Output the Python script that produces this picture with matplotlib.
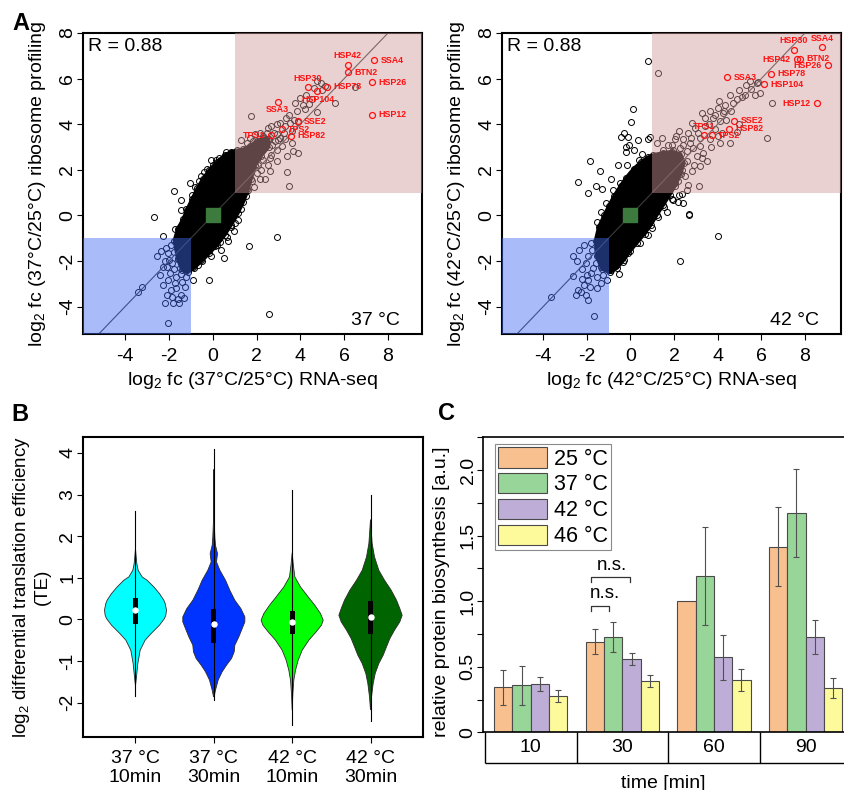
import numpy as np
import matplotlib
matplotlib.use("Agg")
import matplotlib.pyplot as plt
from matplotlib.patches import Polygon, Rectangle

plt.rcParams["font.family"] = ["Liberation Sans", "DejaVu Sans"]
plt.rcParams["mathtext.fontset"] = "custom"
plt.rcParams["mathtext.rm"] = "Liberation Sans"
plt.rcParams["mathtext.it"] = "Liberation Sans:italic"
plt.rcParams["mathtext.bf"] = "Liberation Sans:bold"
plt.rcParams["axes.unicode_minus"] = False

# ---------------- Panel A data: log2 fold changes ----------------
# scattered genes outside the dense centre (RNA-seq fc, ribosome profiling fc), 37 °C
pts37 = np.array([
    [-2.68, -0.05], [-2.27, -0.92], [-1.78, 1.05], [-1.46, 0.68], [-1.46, 0.22], [-1.05, 1.42],
    [-0.64, 1.53], [-0.09, 2.41], [-0.52, 1.74], [0.65, -0.95], [1.66, -1.33], [2.95, -0.95],
    [0.53, -1.86], [-0.18, -2.82], [-0.90, -2.85], [2.56, -4.32], [-2.04, -4.72], [-3.24, -3.12],
    [-3.39, -3.34], [0.09, -1.33], [0.32, -1.15], [0.85, -0.49], [1.16, -0.19], [1.54, 0.86],
    [-0.67, -2.17], [-0.52, -1.95], [-0.90, -2.24], [-0.40, 1.90], [0.30, 2.50], [0.60, 2.78],
    [-0.95, 0.90], [-1.20, 0.30], [-1.50, -0.50], [0.95, -0.70], [0.40, -1.50], [1.30, 0.30],
    [0.00, 2.20], [-0.80, 1.25], [0.15, 2.45], [-0.25, 2.05], [1.00, -0.35], [0.70, -1.10],
    [-0.10, -1.80], [-1.70, -0.60],
    [-2.54, -1.77], [-2.34, -1.58], [-2.15, -1.41], [-2.27, -2.24], [-2.19, -3.85], [-1.81, -3.85],
    [-1.54, -3.85], [-1.43, -3.48], [-1.66, -3.19], [-1.89, -3.26], [-2.27, -3.04], [-2.04, -2.82],
    [-1.96, -2.53], [-1.66, -2.68], [-1.28, -3.12], [-1.84, -3.56], [-1.20, -2.68], [-2.19, -2.02],
    [-2.09, -2.24], [-1.51, -2.31], [-1.90, -1.30], [-1.75, -1.60], [-1.60, -1.90], [-2.00, -1.95],
    [-1.85, -2.10], [-1.40, -2.90], [-1.70, -2.95], [-2.10, -3.50], [-1.60, -3.65], [-2.40, -2.60],
    [-1.30, -3.60], [-1.45, -2.55], [-1.75, -2.35], [-1.20, -2.30], [-2.05, -1.65],
    [1.75, 4.35], [2.66, 3.94], [3.07, 4.06], [3.35, 4.28], [3.50, 4.42], [3.83, 4.57],
    [3.76, 4.91], [3.99, 5.16], [4.26, 5.26], [4.52, 5.11], [4.21, 4.68], [4.78, 4.53],
    [5.58, 4.94], [5.13, 5.67], [4.93, 5.79], [6.50, 5.64], [4.78, 5.88], [4.14, 4.86],
    [3.73, 4.20], [3.53, 4.06], [3.23, 3.62], [2.92, 3.55], [2.46, 3.62], [2.85, 3.26],
    [3.68, 2.82], [3.87, 2.72], [3.41, 2.60], [3.41, 1.90], [3.50, 1.31], [2.62, 1.94],
    [2.54, 2.23], [2.39, 1.58], [2.16, 1.58], [1.90, 1.25], [1.55, 1.14], [2.66, 2.67],
    [2.92, 2.89], [3.15, 3.04], [1.86, 3.26], [1.55, 3.18], [1.25, 2.82], [2.54, 3.33],
    [2.31, 3.47], [2.16, 3.62], [1.93, 3.55], [2.92, 3.99], [2.54, 3.84], [3.07, 3.40],
    [3.30, 3.33], [3.61, 3.18], [2.92, 2.38], [2.31, 2.45], [2.08, 2.23], [2.00, 1.87],
    [1.70, 2.01], [1.78, 1.50], [1.32, 1.28], [1.25, 2.08], [1.47, 2.45],
    [1.15, 1.60], [1.40, 1.80], [1.60, 2.30], [1.90, 2.70], [2.10, 2.90], [2.40, 3.00],
    [2.70, 3.10], [2.80, 3.60], [3.30, 3.90], [3.60, 3.70], [3.90, 4.10], [4.40, 4.90],
    [4.60, 5.60], [5.00, 5.50], [1.10, 2.30], [1.30, 3.30], [1.70, 3.40], [2.20, 2.00],
    [2.60, 2.50], [3.00, 3.30],
])
# outline of the saturated cloud of overlapping genes, 37 °C
core37 = np.array([
    [-1.75, -1.10], [-1.60, -0.60], [-1.35, -0.15], [-1.15, 0.30], [-0.95, 0.70], [-0.70, 1.20],
    [-0.45, 1.60], [-0.15, 2.00], [0.20, 2.35], [0.55, 2.65], [0.85, 2.80], [1.10, 2.85],
    [1.40, 2.90], [1.70, 3.05], [2.00, 3.25], [2.30, 3.40], [2.55, 3.35], [2.55, 3.00],
    [2.20, 2.60], [1.95, 2.20], [1.75, 1.60], [1.60, 1.10], [1.40, 0.60], [1.15, 0.10],
    [0.85, -0.40], [0.55, -0.85], [0.20, -1.30], [-0.15, -1.65], [-0.50, -2.00], [-0.85, -2.30],
    [-1.15, -2.50], [-1.40, -2.40], [-1.60, -1.90],
])
hsp_names37 = ["HSP42", "SSA4", "BTN2", "HSP26", "HSP30", "HSP78", "HSP104",
               "SSA3", "HSP12", "SSE2", "TPS2", "TPS1", "HSP82"]
hsp_x37 = [6.16, 7.38, 6.19, 7.29, 4.34, 5.23, 4.78, 2.97, 7.26, 3.88, 3.15, 2.66, 3.56]
hsp_y37 = [6.60, 6.81, 6.28, 5.84, 5.62, 5.64, 5.45, 4.98, 4.42, 4.14, 3.79, 3.51, 3.50]
hsp_pos37 = ["top", "right", "right", "right", "top", "right", "bottom",
             "bottom", "right", "right", "right", "left", "right"]

# 42 °C
pts42 = np.array([
    [0.82, 6.76], [0.10, 4.67], [0.05, 4.08], [-0.30, 3.61], [-0.44, 3.46], [-0.10, 3.43],
    [-0.21, 3.02], [-0.06, 3.09], [0.36, 3.32], [0.90, 3.43], [-1.84, 2.39], [-1.41, 1.95],
    [-2.39, 1.47], [-1.93, 1.00], [-1.60, 1.27], [-1.31, 1.18], [-0.89, 1.59], [-0.48, 1.42],
    [-0.59, 2.22], [-0.16, 2.22], [-0.20, 2.76], [0.18, 2.88], [0.79, 3.34], [0.41, 2.44],
    [-1.35, 0.17], [-1.51, -0.27], [0.79, -0.85], [2.29, -1.98], [2.67, 0.07], [4.01, -0.90],
    [2.39, 0.56], [2.24, 0.90], [1.93, 0.68], [1.55, 0.39], [1.67, 0.17], [1.25, -0.05],
    [-0.51, -2.56], [-0.89, -2.39], [-1.69, -4.40], [-3.62, -3.58], [-0.13, -1.66], [-0.66, -2.17],
    [2.19, 0.60], [1.89, 0.70], [2.35, 0.93], [-1.10, 0.55], [-0.80, 1.10], [0.55, 2.70],
    [1.00, -0.55], [0.45, -1.20], [-0.35, -2.05],
    [-2.64, -1.76], [-2.45, -1.99], [-2.65, -2.65], [-2.42, -3.26], [-2.50, -3.51], [-2.27, -3.34],
    [-2.04, -3.48], [-1.93, -3.70], [-1.84, -3.12], [-2.15, -3.04], [-1.81, -2.53], [-1.51, -2.68],
    [-1.35, -2.97], [-2.24, -2.36], [-2.04, -2.10], [-2.35, -1.51], [-2.12, -1.29], [-1.96, -1.80],
    [-1.74, -1.51], [-1.08, -2.85], [-1.93, -2.85], [-1.35, -2.24], [-1.60, -2.10], [-1.80, -1.20],
    [-1.45, -1.70], [-1.70, -2.30], [-2.00, -2.60], [-1.25, -2.60], [-1.55, -3.20], [-2.20, -2.80],
    [1.28, 6.23], [6.49, 4.94], [6.25, 3.39], [5.79, 5.79], [5.94, 5.38], [5.51, 5.55],
    [5.71, 5.26], [5.25, 5.30], [5.10, 5.20], [4.87, 5.11], [4.57, 5.30], [4.72, 4.94],
    [4.34, 4.86], [4.08, 5.01], [4.03, 4.72], [4.26, 4.50], [3.65, 4.57], [3.27, 4.50],
    [3.42, 4.28], [3.80, 4.28], [4.10, 4.13], [4.40, 4.20], [4.99, 3.99], [4.87, 3.65],
    [4.56, 3.18], [4.10, 3.18], [4.03, 3.47], [3.65, 3.33], [3.88, 3.77], [2.96, 3.84],
    [2.81, 4.06], [2.66, 3.62], [2.24, 3.69], [3.19, 3.40], [2.73, 3.18], [2.42, 3.33],
    [2.04, 3.33], [1.73, 3.11], [1.96, 2.89], [2.27, 2.96], [2.58, 2.82], [2.88, 2.96],
    [3.19, 3.04], [3.34, 2.75], [3.04, 2.60], [3.49, 2.38], [3.19, 2.16], [2.81, 1.94],
    [2.50, 1.72], [2.66, 1.35], [3.16, 1.31], [1.43, 3.40], [1.20, 3.18], [1.51, 2.89],
    [1.81, 2.52], [2.12, 2.30], [1.35, 2.23], [2.35, 2.01], [2.04, 1.42], [1.66, 1.13],
    [1.35, 1.43], [2.58, 1.13], [2.68, 0.04], [5.86, 5.87],
    [1.20, 2.00], [1.50, 2.20], [1.70, 2.60], [1.90, 3.10], [2.10, 3.50], [2.40, 3.10],
    [2.80, 3.40], [3.10, 3.60], [3.40, 3.90], [3.60, 4.00], [3.90, 4.40], [4.30, 4.60],
    [4.60, 4.60], [5.00, 5.50], [5.30, 5.70], [5.50, 5.90], [1.80, 1.80], [2.20, 1.50],
    [2.90, 2.20], [3.30, 2.50], [1.30, 2.60], [1.10, 1.70], [2.60, 2.40], [3.70, 3.00],
    [4.20, 3.60],
])
core42 = np.array([
    [-1.60, -1.10], [-1.45, -0.50], [-1.20, 0.00], [-1.00, 0.40], [-0.75, 0.85], [-0.45, 1.30],
    [-0.20, 1.65], [0.15, 2.05], [0.50, 2.35], [0.80, 2.55], [1.05, 2.65], [1.50, 2.75],
    [1.90, 2.80], [2.30, 2.70], [2.45, 2.30], [2.30, 1.80], [2.05, 1.30], [1.80, 0.90],
    [1.50, 0.45], [1.20, 0.00], [0.95, -0.40], [0.65, -0.80], [0.30, -1.20], [0.00, -1.55],
    [-0.30, -1.95], [-0.60, -2.30], [-0.95, -2.50], [-1.30, -2.35], [-1.55, -1.80],
])
hsp_names42 = ["HSP30", "SSA4", "HSP42", "BTN2", "HSP26", "HSP78", "SSA3",
               "HSP104", "HSP12", "SSE2", "HSP82", "TPS1", "TPS2"]
hsp_x42 = [7.50, 8.80, 7.62, 7.79, 9.06, 6.43, 4.43, 6.11, 8.54, 4.76, 4.53, 3.39, 3.72]
hsp_y42 = [7.27, 7.37, 6.84, 6.87, 6.58, 6.21, 6.05, 5.76, 4.91, 4.15, 3.81, 3.52, 3.52]
hsp_pos42 = ["top", "top", "left", "right", "left", "right", "right",
             "right", "left", "right", "right", "top", "right"]

# ---------------- Panel B data: violin outlines of log2 differential TE ----------------
violin_labels = ["37 °C\n10min", "37 °C\n30min", "42 °C\n10min", "42 °C\n30min"]
violin_colors = ["#00ffff", "#0033ff", "#00ff00", "#006400"]
v1_y = [1.70, 1.50, 1.34, 1.18, 1.02, 0.94, 0.78, 0.62, 0.46, 0.38, 0.22, 0.10, 0.02,
        -0.14, -0.34, -0.50, -0.74, -1.06, -1.38, -1.60]
v1_w = [0.0, 0.009, 0.017, 0.034, 0.085, 0.149, 0.234, 0.306, 0.362, 0.379, 0.396, 0.387, 0.370,
        0.306, 0.200, 0.123, 0.060, 0.030, 0.013, 0.0]
v2_y = [3.60, 2.40, 1.98, 1.78, 1.58, 1.38, 1.18, 0.94, 0.70, 0.46, 0.26, 0.06, -0.06, -0.22,
        -0.42, -0.62, -0.78, -0.94, -1.10, -1.26, -1.46, -1.70, -1.86]
v2_w = [0.002, 0.004, 0.013, 0.021, 0.047, 0.034, 0.077, 0.149, 0.204, 0.268, 0.345, 0.396, 0.396,
        0.362, 0.319, 0.268, 0.260, 0.226, 0.162, 0.106, 0.055, 0.021, 0.004]
v3_y = [1.60, 1.34, 1.02, 0.78, 0.54, 0.34, 0.14, -0.02, -0.14, -0.30, -0.50, -0.74, -0.98,
        -1.22, -1.46, -1.78, -2.18]
v3_w = [0.0, 0.013, 0.034, 0.106, 0.204, 0.289, 0.362, 0.396, 0.374, 0.306, 0.213, 0.128, 0.077,
        0.043, 0.021, 0.009, 0.0]
v4_y = [2.40, 2.14, 1.82, 1.50, 1.18, 0.94, 0.70, 0.46, 0.26, 0.10, -0.06, -0.26, -0.46, -0.66,
        -0.86, -1.06, -1.30, -1.54, -1.86, -2.18]
v4_w = [0.0, 0.009, 0.021, 0.051, 0.106, 0.179, 0.264, 0.332, 0.374, 0.404, 0.374, 0.306, 0.247,
        0.204, 0.162, 0.106, 0.060, 0.034, 0.013, 0.0]
violin_min = [-1.83, -1.94, -2.54, -2.44]
violin_max = [2.61, 4.10, 3.12, 2.98]
violin_q1 = [-0.12, -0.58, -0.34, -0.34]
violin_q3 = [0.52, 0.26, 0.20, 0.44]
violin_med = [0.22, -0.12, -0.06, 0.06]

# ---------------- Panel C data: relative protein biosynthesis ----------------
time_labels = ["10", "30", "60", "90"]
temp_labels = ["25 °C", "37 °C", "42 °C", "46 °C"]
bar_colors = ["#f9c08f", "#98d598", "#beaed7", "#fdfa9c"]
synth_25 = [0.342, 0.691, 1.000, 1.416]
synth_37 = [0.360, 0.727, 1.191, 1.673]
synth_42 = [0.367, 0.559, 0.571, 0.724]
synth_46 = [0.276, 0.390, 0.400, 0.337]
err_25 = [0.133, 0.095, 0.0, 0.300]
err_37 = [0.149, 0.113, 0.375, 0.335]
err_42 = [0.051, 0.048, 0.170, 0.130]
err_46 = [0.046, 0.046, 0.082, 0.079]

# ======================================================================
W, H = 844, 790
fig = plt.figure(figsize=(W / 100, H / 100), dpi=100)


def axes_px(x0, y0, x1, y1):
    return fig.add_axes([x0 / W, 1 - y1 / H, (x1 - x0) / W, (y1 - y0) / H])


def style_box(ax, lw=1.5):
    for s in ax.spines.values():
        s.set_linewidth(lw)
        s.set_color("black")


def rotate_ylabels(ax):
    for lab in ax.get_yticklabels():
        lab.set_rotation(90)
        lab.set_va("center")


PINK = (0.82, 0.60, 0.60)
BLUE = (0.25, 0.42, 0.95)
OFFSETS = {"right": (4.6, 0, "left", "center"),
           "left": (-4.6, 0, "right", "center"),
           "top": (0, 3.2, "center", "bottom"),
           "bottom": (0, -2.6, "center", "top")}


def scatter_panel(ax, pts, core, names, gx, gy, gpos, temp, xlim):
    ax.set_xlim(*xlim)
    ax.set_ylim(-5.2, 8.0)
    ax.add_patch(Polygon(core, closed=True, fc="black", ec="black", lw=2.5,
                         joinstyle="round", zorder=2))
    # ragged rim of the cloud: open circles on the outline vertices
    ax.plot(core[:, 0], core[:, 1], "o", ms=4.3, mfc="none", mec="black", mew=0.7, zorder=2)
    ax.plot(pts[:, 0], pts[:, 1], "o", ms=4.3, mfc="none", mec="black", mew=0.7, zorder=2)
    ax.plot([-10, 10], [-10, 10], color="#3c3c3c", lw=0.8, zorder=2.5)
    ax.add_patch(Rectangle((1, 1), 20, 20, fc=PINK, alpha=0.45, lw=0, zorder=3))
    ax.add_patch(Rectangle((-20, -20), 19, 19, fc=BLUE, alpha=0.45, lw=0, zorder=3))
    ax.plot(gx, gy, "o", ms=4.3, mfc="none", mec="#ff1010", mew=0.9, zorder=4)
    for n, x, y, p in zip(names, gx, gy, gpos):
        dx, dy, ha, va = OFFSETS[p]
        ax.annotate(n, (x, y), xytext=(dx, dy), textcoords="offset points",
                    ha=ha, va=va, fontsize=6.4, fontweight="bold", color="#ff1010", zorder=5)
    ax.plot([0], [0], "s", ms=9.4, color="#3d7a3d", zorder=5)
    ax.text(0.016, 0.955, "R = 0.88", transform=ax.transAxes, fontsize=14,
            ha="left", va="center", zorder=6)
    ax.text(0.935, 0.045, temp, transform=ax.transAxes, fontsize=14,
            ha="right", va="center", zorder=6)
    ax.set_xticks(range(-4, 9, 2))
    ax.set_yticks(range(-4, 9, 2))
    ax.tick_params(direction="out", length=4.3, width=0.8, labelsize=14)
    ax.tick_params(axis="x", pad=6)
    ax.tick_params(axis="y", pad=0.5)
    rotate_ylabels(ax)
    style_box(ax)
    short = temp.replace(" ", "")
    ax.set_xlabel("log$_2$ fc (%s/25°C) RNA-seq" % short, fontsize=14, va="center")
    ax.xaxis.set_label_coords(0.5, -0.153)
    ax.set_ylabel("log$_2$ fc (%s/25°C) ribosome profiling" % short, fontsize=14, va="center")
    ax.yaxis.set_label_coords(-0.134, 0.5)


axA1 = axes_px(83, 33, 422, 334)
scatter_panel(axA1, pts37, core37, hsp_names37, hsp_x37, hsp_y37, hsp_pos37, "37 °C",
              (-5.92, 9.55))
axA2 = axes_px(501.7, 33, 840.7, 334)
scatter_panel(axA2, pts42, core42, hsp_names42, hsp_x42, hsp_y42, hsp_pos42, "42 °C",
              (-5.90, 9.64))

# ---------------- Panel B: violins ----------------
axB = axes_px(83, 436.7, 423, 736.7)
axB.set_xlim(0.33, 4.67)
axB.set_ylim(-2.82, 4.39)
profiles = [(v1_y, v1_w), (v2_y, v2_w), (v3_y, v3_w), (v4_y, v4_w)]
for i, (vy, vw) in enumerate(profiles):
    pos = i + 1
    y = np.asarray(vy)
    w = np.asarray(vw)
    xs = np.concatenate([pos - w, (pos + w)[::-1]])
    ys = np.concatenate([y, y[::-1]])
    axB.fill(xs, ys, fc=violin_colors[i], ec="#2a2a2a", lw=0.6, zorder=2)
    axB.plot([pos, pos], [violin_min[i], violin_max[i]], color="black", lw=0.8, zorder=3)
    axB.add_patch(Rectangle((pos - 0.03, violin_q1[i]), 0.06, violin_q3[i] - violin_q1[i],
                            fc="black", ec="none", zorder=4))
    axB.plot([pos], [violin_med[i]], "o", ms=3.6, mfc="white", mec="white", zorder=5)
axB.set_xticks([1, 2, 3, 4])
axB.set_xticklabels(violin_labels)
axB.set_yticks(range(-2, 5))
axB.tick_params(direction="out", length=4.3, width=0.8, labelsize=14)
axB.tick_params(axis="x", pad=5)
axB.tick_params(axis="y", pad=0.5)
rotate_ylabels(axB)
style_box(axB)
axB.set_ylabel("log$_2$ differential translation efficiency\n(TE)", fontsize=13.5,
               va="center", linespacing=1.15)
axB.yaxis.set_label_coords(-0.152, 0.5)

# ---------------- Panel C: grouped bars ----------------
axC = axes_px(483.3, 437.3, 850, 732.3)
axC.set_xlim(0.415, 20.42)
axC.set_ylim(0, 2.25)
series = [(synth_25, err_25), (synth_37, err_37), (synth_42, err_42), (synth_46, err_46)]
for k, (vals, errs) in enumerate(series):
    lefts = np.array([1 + 5 * g + k for g in range(len(time_labels))], dtype=float)
    axC.bar(lefts, vals, width=1.0, align="edge", color=bar_colors[k],
            edgecolor="#4a4a4a", linewidth=0.8, label=temp_labels[k], zorder=2)
    e = np.asarray(errs)
    keep = e > 0
    axC.errorbar(lefts[keep] + 0.5, np.asarray(vals)[keep], yerr=e[keep], fmt="none",
                 ecolor="#505050", elinewidth=0.8, capsize=2.2, capthick=0.8, zorder=3)

# significance brackets at 30 min
axC.plot([6.27, 6.27, 7.27, 7.27], [0.923, 0.962, 0.962, 0.923], color="#333333", lw=0.9)
axC.text(7.04, 1.023, "n.s.", ha="center", va="baseline", fontsize=13.5)
axC.plot([6.27, 6.27, 8.40, 8.40], [1.145, 1.186, 1.186, 1.145], color="#333333", lw=0.9)
axC.text(7.44, 1.240, "n.s.", ha="center", va="baseline", fontsize=13.5)

# time table beneath the bars
row_h = 0.236
axC.vlines([0.5, 5.5, 10.5, 15.5], -row_h, 0, color="black", lw=1.0, clip_on=False)
axC.hlines(-row_h, 0.5, 21, color="black", lw=1.0, clip_on=False)
for g, t in enumerate(time_labels):
    axC.text(3 + 5 * g, -row_h / 2, t, ha="center", va="center", fontsize=14)

axC.set_xticks([])
axC.set_yticks([0, 0.5, 1.0, 1.5, 2.0])
axC.set_yticklabels(["0", "0.5", "1.0", "1.5", "2.0"])
axC.set_yticks([0.25, 0.75, 1.25, 1.75, 2.25], minor=True)
axC.tick_params(axis="y", which="both", direction="out", length=4.3, width=0.8,
                labelsize=14, pad=0.5)
rotate_ylabels(axC)
for s in ("left", "top", "bottom"):
    axC.spines[s].set_linewidth(1.2)
axC.spines["right"].set_visible(False)
axC.set_ylabel("relative protein biosynthesis [a.u.]", fontsize=14, va="center")
axC.yaxis.set_label_coords(-0.113, 0.477)
axC.set_xlabel("time [min]", fontsize=14, va="top")
axC.xaxis.set_label_coords(0.49, -0.145)

leg = axC.legend(loc="upper left", bbox_to_anchor=(494.7 / W, 1 - 443.7 / H),
                 bbox_transform=fig.transFigure, fontsize=15.5, frameon=True,
                 fancybox=False, edgecolor="#8a8a8a", framealpha=1, borderpad=0.15,
                 handlelength=2.3, handleheight=1.1, handletextpad=0.3,
                 labelspacing=0.15, borderaxespad=0)
leg.get_frame().set_linewidth(0.8)

# panel letters
fig.text(20.5 / W, 1 - 23 / H, "A", fontsize=17, fontweight="bold", ha="center", va="center")
fig.text(20 / W, 1 - 414.5 / H, "B", fontsize=17, fontweight="bold", ha="center", va="center")
fig.text(446.5 / W, 1 - 413.5 / H, "C", fontsize=17, fontweight="bold", ha="center", va="center")

fig.savefig("out.png", dpi=100)
